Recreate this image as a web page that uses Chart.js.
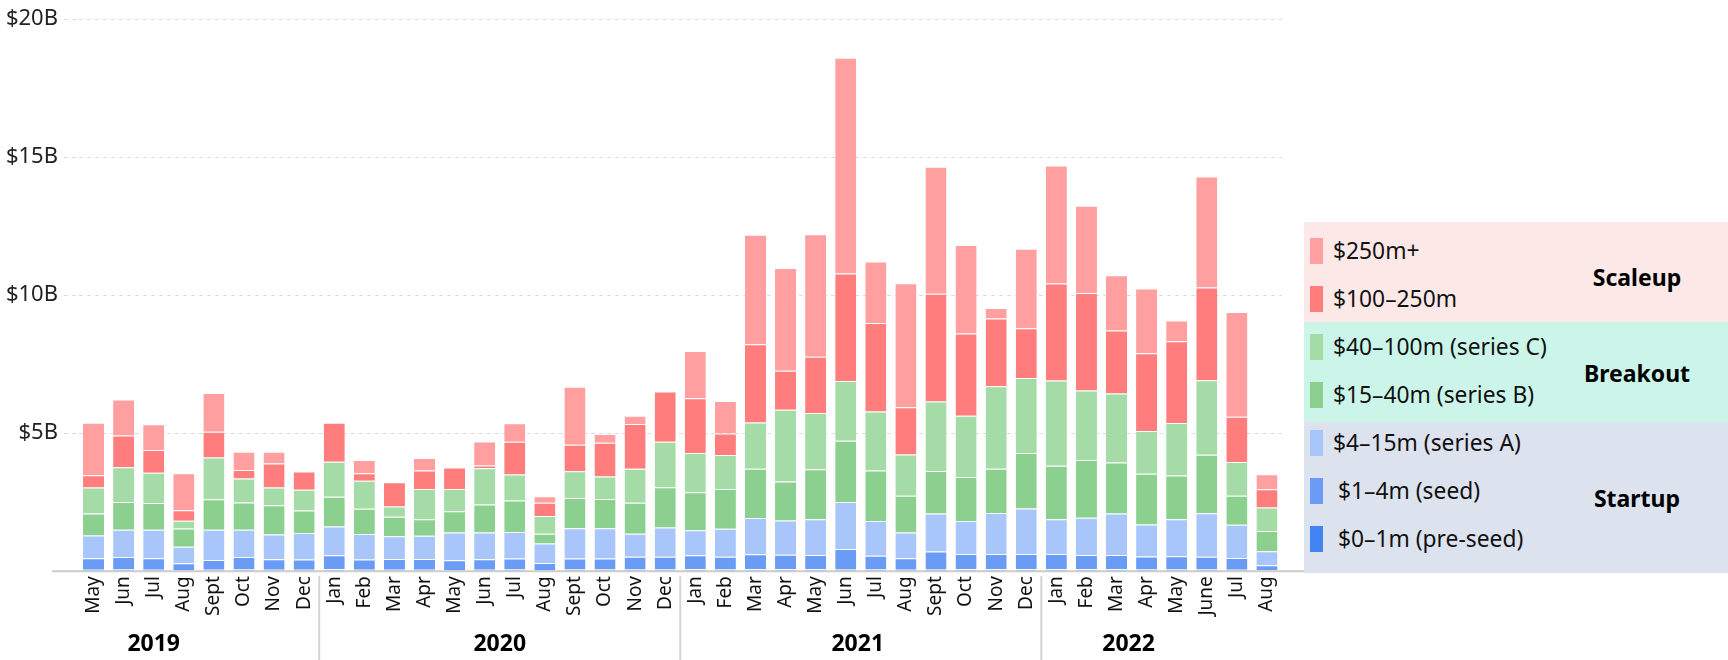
<!DOCTYPE html>
<html>
<head>
<meta charset="utf-8">
<script src="https://cdn.jsdelivr.net/npm/chart.js@4.4.0/dist/chart.umd.min.js"></script>
<style>
  html, body { margin: 0; padding: 0; background: #fff; }
  #wrap { position: relative; width: 1728px; height: 660px; font-family: "Noto Sans", sans-serif; }
  #fundingChart { position: absolute; left: 0; top: 0; }
  #legend { position: absolute; left: 1304px; top: 222px; width: 424px; height: 351px; color: #111; }
  .group { position: absolute; left: 0; width: 424px; }
  .item { position: absolute; left: 0; height: 26px; display: flex; align-items: center; font-size: 22.8px; white-space: nowrap; }
  .swatch { position: absolute; left: 6px; top: 0; width: 13px; height: 26px; }
  .item-label { position: absolute; left: 29px; line-height: 26px; }
  .group-title { position: absolute; left: 333px; transform: translate(-50%, -50%); font-size: 23px; font-weight: bold; color: #000; white-space: nowrap; }
</style>
</head>
<body>
<div id="wrap">
  <canvas id="fundingChart" width="1728" height="660"></canvas>
  <div id="legend"></div>
</div>
<script>
// months from May 2019 to Aug 2022
var months = [
    'May', 'Jun', 'Jul', 'Aug', 'Sept', 'Oct', 'Nov', 'Dec',
    'Jan', 'Feb', 'Mar', 'Apr', 'May', 'Jun', 'Jul', 'Aug', 'Sept', 'Oct', 'Nov', 'Dec',
    'Jan', 'Feb', 'Mar', 'Apr', 'May', 'Jun', 'Jul', 'Aug', 'Sept', 'Oct', 'Nov', 'Dec',
    'Jan', 'Feb', 'Mar', 'Apr', 'May', 'June', 'Jul', 'Aug'
];
var years = ['2019', '2020', '2021', '2022'];
var yearStarts = [0, 8, 20, 32];

// amounts in $B per round size
var preSeed = [0.05, 0.06, 0.05, 0.04, 0.05, 0.06, 0.05, 0.05,
    0.07, 0.05, 0.05, 0.05, 0.04, 0.05, 0.06, 0.04, 0.06, 0.06, 0.06, 0.06,
    0.07, 0.06, 0.07, 0.07, 0.07, 0.08, 0.06, 0.05, 0.08, 0.07, 0.07, 0.07,
    0.07, 0.07, 0.07, 0.06, 0.06, 0.06, 0.05, 0.03];
var seed = [0.42, 0.45, 0.42, 0.25, 0.36, 0.45, 0.38, 0.37,
    0.51, 0.37, 0.39, 0.39, 0.36, 0.38, 0.40, 0.26, 0.40, 0.40, 0.46, 0.46,
    0.51, 0.46, 0.54, 0.53, 0.52, 0.72, 0.50, 0.42, 0.63, 0.55, 0.55, 0.55,
    0.55, 0.52, 0.52, 0.47, 0.48, 0.46, 0.43, 0.19];
var seriesA = [0.82, 0.99, 1.03, 0.60, 1.09, 0.99, 0.90, 0.96,
    1.04, 0.93, 0.83, 0.84, 1.00, 0.97, 0.96, 0.70, 1.10, 1.10, 0.84, 1.06,
    0.90, 1.02, 1.32, 1.24, 1.29, 1.71, 1.26, 0.93, 1.38, 1.20, 1.49, 1.65,
    1.26, 1.35, 1.50, 1.16, 1.34, 1.58, 1.20, 0.50];
var seriesB = [0.80, 1.01, 0.97, 0.66, 1.11, 0.99, 1.06, 0.82,
    1.08, 0.91, 0.70, 0.60, 0.77, 1.02, 1.14, 0.36, 1.09, 1.06, 1.12, 1.46,
    1.38, 1.44, 1.78, 1.41, 1.81, 2.22, 1.83, 1.33, 1.54, 1.59, 1.60, 2.01,
    1.94, 2.09, 1.85, 1.84, 1.59, 2.12, 1.05, 0.74];
var seriesC = [0.94, 1.26, 1.10, 0.28, 1.51, 0.87, 0.64, 0.75,
    1.27, 1.02, 0.37, 1.10, 0.81, 1.31, 0.94, 0.64, 0.97, 0.81, 1.23, 1.65,
    1.42, 1.23, 1.68, 2.60, 2.04, 2.16, 2.14, 1.50, 2.52, 2.22, 2.99, 2.72,
    3.09, 2.52, 2.50, 1.55, 1.90, 2.70, 1.23, 0.85];
var mid = [0.45, 1.15, 0.82, 0.38, 0.93, 0.31, 0.87, 0.66,
    1.41, 0.27, 0.88, 0.67, 0.78, 0.10, 1.19, 0.48, 0.96, 1.22, 1.62, 1.82,
    1.99, 0.78, 2.83, 1.41, 2.04, 3.90, 3.20, 1.71, 3.90, 2.98, 2.46, 1.80,
    3.51, 3.53, 2.28, 2.82, 2.96, 3.36, 1.64, 0.66];
var mega = [1.90, 1.30, 0.93, 1.34, 1.41, 0.66, 0.43, 0,
    0, 0.48, 0, 0.45, 0, 0.87, 0.67, 0.24, 2.10, 0.32, 0.30, 0,
    1.71, 1.18, 3.97, 3.73, 4.44, 7.81, 2.23, 4.49, 4.60, 3.21, 0.38, 2.88,
    4.28, 3.16, 2.00, 2.34, 0.75, 4.02, 3.79, 0.54];

var yTicks = [0, 5, 10, 15, 20];

var seriesNames = ['$0–1m (pre-seed)', '$1–4m (seed)', '$4–15m (series A)',
    '$15–40m (series B)', '$40–100m (series C)', '$100–250m', '$250m+'];
var seriesData = [preSeed, seed, seriesA, seriesB, seriesC, mid, mega];
var seriesColors = ['#4384f3', '#6a9cf6', '#a9c6fb', '#8bd08f', '#a4dba7', '#ff7d7d', '#ff9f9f'];

var groups = [
    { name: 'Scaleup', bg: '#fde8e8', members: [6, 5] },
    { name: 'Breakout', bg: '#ccf5ea', members: [4, 3] },
    { name: 'Startup', bg: '#dde2ef', members: [2, 1, 0] }
];

// 凡例をHTMLで組み立てる
function buildLegend() {
    var legend = document.getElementById('legend');
    var heights = [100, 100, 151];
    var top = 0;
    var row = 0;
    groups.forEach(function (g, gi) {
        var box = document.createElement('div');
        box.className = 'group';
        box.style.top = top + 'px';
        box.style.height = heights[gi] + 'px';
        box.style.background = g.bg;
        legend.appendChild(box);

        g.members.forEach(function (si) {
            var item = document.createElement('div');
            item.className = 'item';
            item.style.top = (29 + 48 * row - 13) + 'px';
            var sw = document.createElement('span');
            sw.className = 'swatch';
            sw.style.background = seriesColors[si];
            var lb = document.createElement('span');
            lb.className = 'item-label';
            if (si < 2) lb.style.left = '34px';
            lb.textContent = seriesNames[si];
            item.appendChild(sw);
            item.appendChild(lb);
            legend.appendChild(item);
            row++;
        });
        top += heights[gi];
    });

    var titleY = [55, 151, 276];
    groups.forEach(function (g, gi) {
        var t = document.createElement('div');
        t.className = 'group-title';
        t.style.top = titleY[gi] + 'px';
        t.textContent = g.name;
        legend.appendChild(t);
    });
}

// 軸線・年の区切り・年ラベル
var decorPlugin = {
    id: 'decor',
    afterDraw: function (chart) {
        var c = chart.ctx;
        var x = chart.scales.x;
        var y = chart.scales.y;
        var base = y.getPixelForValue(0);
        c.save();
        c.strokeStyle = '#cccccc';
        c.lineWidth = 2;
        c.beginPath();
        c.moveTo(52, base);
        c.lineTo(1304, base);
        c.stroke();

        c.lineWidth = 2;
        c.strokeStyle = '#d4d4d4';
        yearStarts.slice(1).forEach(function (s) {
            var px = (x.getPixelForValue(s - 1) + x.getPixelForValue(s)) / 2;
            c.beginPath();
            c.moveTo(px, base + 5);
            c.lineTo(px, 660);
            c.stroke();
        });

        var centers = [2.0, 13.5, 25.4, 34.4];
        var step = x.getPixelForValue(1) - x.getPixelForValue(0);
        c.fillStyle = '#000';
        c.font = 'bold 23px "Noto Sans", sans-serif';
        c.textAlign = 'center';
        c.textBaseline = 'middle';
        years.forEach(function (yr, i) {
            var px = x.getPixelForValue(0) + centers[i] * step;
            c.fillText(yr, px, 644);
        });
        c.restore();
    }
};

Chart.defaults.font.family = '"Noto Sans", sans-serif';
Chart.defaults.color = '#222';

var datasets = seriesData.map(function (d, i) {
    return {
        label: seriesNames[i],
        data: d,
        backgroundColor: seriesColors[i],
        borderColor: 'rgba(255,255,255,0.25)',
        borderWidth: { top: 1, left: 0, right: 0, bottom: 0 },
        borderSkipped: 'start',
        barPercentage: 0.7,
        categoryPercentage: 1.0
    };
});

buildLegend();

new Chart(document.getElementById('fundingChart').getContext('2d'), {
    type: 'bar',
    data: { labels: months, datasets: datasets },
    plugins: [decorPlugin],
    options: {
        responsive: false,
        animation: false,
        devicePixelRatio: 1,
        layout: { padding: { left: 0, right: 446, top: 15.3, bottom: 0 } },
        plugins: {
            legend: { display: false },
            tooltip: { enabled: false }
        },
        scales: {
            x: {
                stacked: true,
                grid: { display: false, drawTicks: false },
                border: { display: false },
                ticks: {
                    autoSkip: false,
                    minRotation: 90,
                    maxRotation: 90,
                    padding: 5,
                    color: '#111',
                    font: { size: 19 }
                },
                afterFit: function (scale) { scale.height = 88.8; }
            },
            y: {
                stacked: true,
                min: 0,
                max: 20,
                afterBuildTicks: function (scale) {
                    scale.ticks = yTicks.map(function (v) { return { value: v }; });
                },
                grid: {
                    color: '#dcdcdc',
                    lineWidth: 1,
                    drawTicks: true,
                    tickLength: 14.5,
                    tickColor: '#dcdcdc',
                    tickBorderDash: [4, 4]
                },
                border: { display: false, dash: [4, 4] },
                ticks: {
                    padding: 6,
                    color: '#222',
                    font: { size: 22 },
                    callback: function (v) { return v === 0 ? '' : '$' + v + 'B'; }
                },
                afterFit: function (scale) { scale.width = 78.5; }
            }
        }
    }
});
</script>
</body>
</html>
